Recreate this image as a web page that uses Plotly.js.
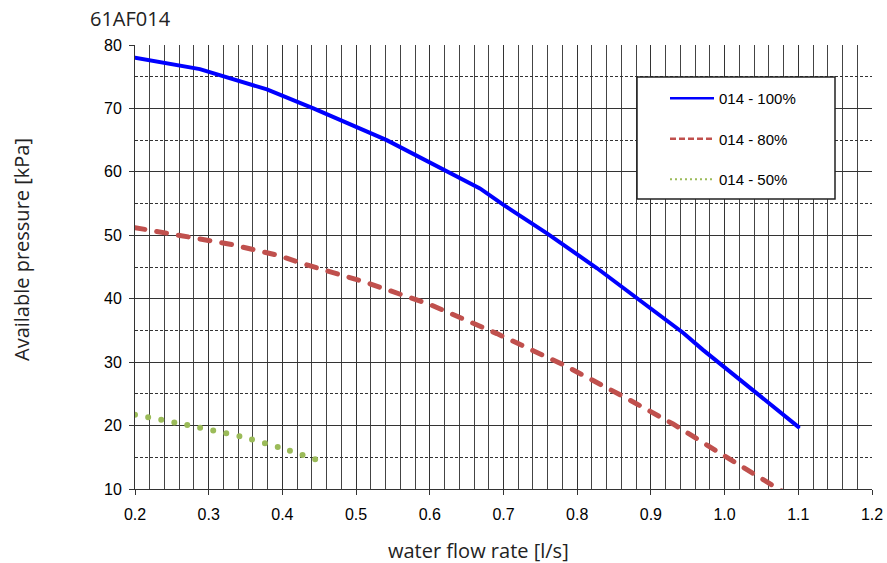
<!DOCTYPE html>
<html><head><meta charset="utf-8">
<script src="https://cdn.plot.ly/plotly-3.0.1.min.js"></script>
<style>
html,body{margin:0;padding:0;background:#fff}
#chart{width:887px;height:563px}
.scatterlayer .js-line{stroke-linecap:round}
</style>
</head><body><div id="chart"></div>
<script>
const flow100 = [0.2, 0.288, 0.379, 0.442, 0.5415, 0.618, 0.668, 0.700, 0.759, 0.827, 0.881, 0.944, 0.971, 1.035, 1.1];
const pres100 = [78.0, 76.2, 73.0, 70.0, 65.0, 60.3, 57.4, 54.8, 50.3, 44.8, 40.1, 34.6, 31.9, 25.8, 19.8];
const flow80 = [0.2, 0.284, 0.329, 0.392, 0.437, 0.51, 0.578, 0.600, 0.691, 0.781, 0.867, 0.930, 0.989, 1.071, 1.08];
const pres80 = [51.2, 49.5, 48.6, 46.9, 45.2, 42.7, 40.1, 39.1, 34.5, 29.6, 24.3, 20.25, 16.0, 10.1, 9.5];
const flow50 = [0.2, 0.275, 0.35, 0.4, 0.455];
const pres50 = [21.7, 20.0, 18.1, 16.4, 14.3];
const names = ['014 - 100%', '014 - 80%', '014 - 50%'];
const xTitle = 'water flow rate [l/s]';
const yTitle = 'Available pressure [kPa]';
const chartTitle = '61AF014';

const traces = [
  {x: flow100, y: pres100, name: names[0], legendgroup: 'a', mode: 'lines', line: {color: '#0000FF', width: 4}},
  {x: flow80, y: pres80, name: names[1], legendgroup: 'b', mode: 'lines', line: {color: '#C0504D', width: 5, dash: '10px,12px'}},
  {x: flow50, y: pres50, name: names[2], legendgroup: 'c', mode: 'lines', line: {color: '#9BBB59', width: 6, dash: '0px,13.3px', shape: 'spline', smoothing: 0.5}}
];

const titleFont = {family: 'Open Sans, sans-serif', size: 20, color: '#222'};
const tickFont = {family: 'Liberation Sans, Arial, sans-serif', size: 16, color: '#000'};
const layout = {
  width: 887, height: 563,
  margin: {l: 135, r: 15, t: 45, b: 74},
  paper_bgcolor: '#fff', plot_bgcolor: '#fff',
  font: tickFont,
  showlegend: true,
  legend: {x: (665-135)/737, y: (489-82)/444, xanchor: 'left', yanchor: 'top', bgcolor: 'rgba(0,0,0,0)', borderwidth: 0,
           tracegroupgap: 18, font: {family: 'Liberation Sans, Arial, sans-serif', size: 15, color: '#000'}, itemwidth: 44},
  xaxis: {range: [0.2, 1.2], dtick: 0.1, tick0: 0.2, tickformat: '.1f', showgrid: true, gridcolor: '#333', gridwidth: 1,
          minor: {dtick: 0.02, showgrid: true, gridcolor: '#444', gridwidth: 1},
          ticks: 'outside', ticklen: 5, tickcolor: '#333', showline: true, linecolor: '#333', linewidth: 1,
          ticklabelstandoff: 6, tickfont: tickFont, zeroline: false, fixedrange: true},
  yaxis: {range: [10, 80], dtick: 10, showgrid: true, gridcolor: '#333', gridwidth: 1,
          minor: {dtick: 5, showgrid: true, gridcolor: '#333', gridwidth: 1, griddash: '3px,2px'},
          ticks: 'outside', ticklen: 5, tickcolor: '#333', showline: true, linecolor: '#333', linewidth: 1,
          ticklabelstandoff: 4, tickfont: tickFont, zeroline: false, fixedrange: true},
  shapes: [
    {type: 'rect', xref: 'paper', yref: 'paper', x0: (637-135)/737, x1: (835-135)/737, y0: (489-199)/444, y1: (489-77)/444,
     fillcolor: '#fff', line: {color: '#222', width: 1.5}, layer: 'above'}
  ],
  annotations: [
    {text: chartTitle, xref: 'paper', yref: 'paper', x: (88-135)/737, y: (489-18)/444, xanchor: 'left', yanchor: 'middle', showarrow: false, font: titleFont},
    {text: xTitle, xref: 'paper', yref: 'paper', x: (478-135)/737, y: (489-550)/444, xanchor: 'center', yanchor: 'middle', showarrow: false, font: titleFont},
    {text: yTitle, xref: 'paper', yref: 'paper', x: (22-135)/737, y: (489-250)/444, xanchor: 'center', yanchor: 'middle', showarrow: false, textangle: -90, font: titleFont}
  ]
};
Plotly.newPlot('chart', traces, layout, {staticPlot: true, displayModeBar: false}).then(function(gd){
  const legendStyles = [
    {w: '2.5px', dash: 'none'},
    {w: '2.5px', dash: '6px,3px'},
    {w: '2px', dash: '2px,3px'}
  ];
  gd.querySelectorAll('.legend .traces').forEach(function(t, i){
    const p = t.querySelector('.js-line');
    if (p && legendStyles[i]) {
      p.style.strokeWidth = legendStyles[i].w;
      p.style.strokeDasharray = legendStyles[i].dash;
      p.style.strokeLinecap = 'butt';
    }
  });
});
</script></body></html>
